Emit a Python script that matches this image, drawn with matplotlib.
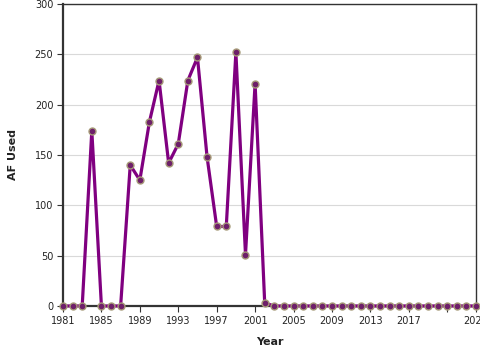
import matplotlib
matplotlib.use('Agg')
import matplotlib.pyplot as plt

years = list(range(1981, 2025))
af_used = [0, 0, 0, 174, 0, 0, 0, 140, 125, 183, 224, 142, 161, 224, 247, 148,
           79, 79, 252, 51, 221, 3] + [0] * 22

x_ticks = list(range(1981, 2022, 4)) + [2024]
x_labels = [str(y) for y in range(1981, 2018, 4)] + ['', '2024']

fig = plt.figure(figsize=(4.8, 3.6), dpi=100)
ax = fig.add_axes([63 / 480, 1 - 306 / 360, (476 - 63) / 480, (306 - 4) / 360])

ax.plot(years, af_used, color='#800080', linewidth=2.3, zorder=3,
        marker='o', markersize=5, markerfacecolor='#6e1f6a',
        markeredgecolor='#a69a78', markeredgewidth=1.0, clip_on=False)

ax.set_xlim(1981, 2024)
ax.set_ylim(0, 300)
ax.set_yticks(range(0, 301, 50))
ax.set_xticks(x_ticks)
ax.set_xticklabels(x_labels)

ax.grid(axis='y', color='#d9d9d9', linewidth=0.8)
ax.set_axisbelow(True)

for side in ['left', 'bottom']:
    ax.spines[side].set_linewidth(1.6)
    ax.spines[side].set_color('#333333')
for side in ['top', 'right']:
    ax.spines[side].set_linewidth(1.0)
    ax.spines[side].set_color('#333333')

ax.tick_params(labelsize=7, length=4, width=0.8, color='#333333', labelcolor='#222222', pad=3)
ax.set_xlabel('Year', fontsize=8, fontweight='bold', color='#222222', labelpad=8)
ax.set_ylabel('AF Used', fontsize=8, fontweight='bold', color='#222222', labelpad=12)

plt.savefig('out.png', dpi=100)
